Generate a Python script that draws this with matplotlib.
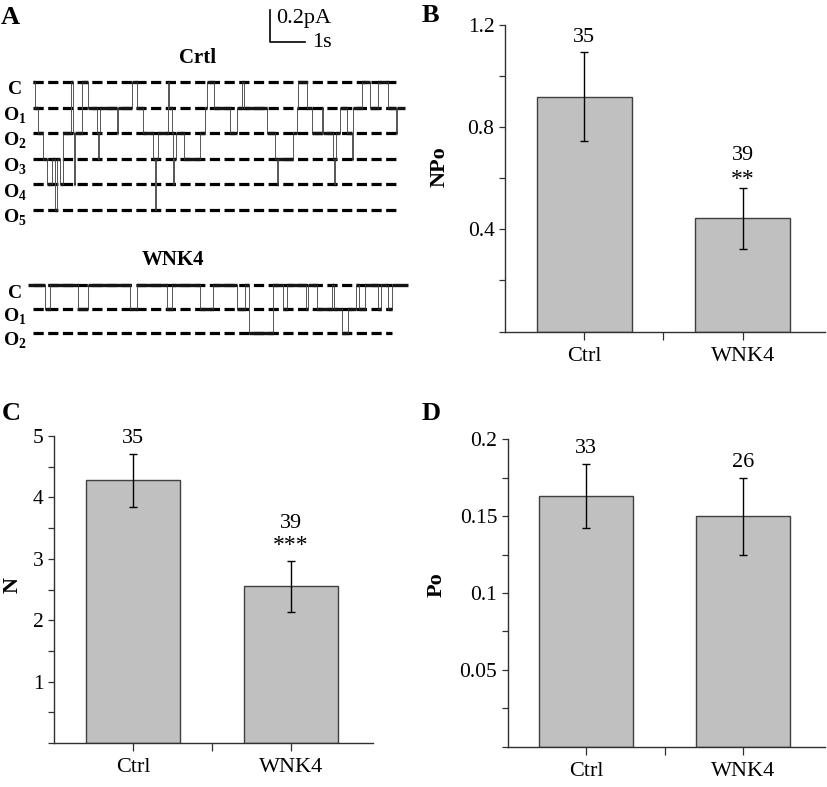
import numpy as np
import matplotlib
matplotlib.use('Agg')
import matplotlib.pyplot as plt
from matplotlib.ticker import MultipleLocator, FuncFormatter

plt.rcParams['font.family'] = ['Liberation Serif', 'DejaVu Serif']
plt.rcParams['mathtext.fontset'] = 'custom'
plt.rcParams['mathtext.rm'] = 'Liberation Serif'
plt.rcParams['mathtext.bf'] = 'Liberation Serif:bold'

# ---- data ----
groups = ['Ctrl', 'WNK4']

npo_mean = [0.92, 0.443]
npo_err = [0.175, 0.12]
npo_n = ['35', '39']
npo_sig = ['', '**']

n_mean = [4.28, 2.55]
n_err = [0.43, 0.41]
n_n = ['35', '39']
n_sig = ['', '***']

po_mean = [0.163, 0.150]
po_err = [0.021, 0.025]
po_n = ['33', '26']
po_sig = ['', '']

# single channel recordings: transition times (s) and number of open channels
crtl_t = [0.00, 0.06, 0.14, 0.29, 0.40, 0.54, 0.63, 0.69, 0.77, 0.86, 1.09, 1.13,
          1.16, 1.19, 1.40, 1.57, 1.83, 1.86, 1.89, 1.91, 2.40, 2.43, 2.83, 2.97,
          3.14, 3.43, 3.49, 3.51, 3.57, 3.86, 3.89, 3.97, 4.00, 4.03, 4.09, 4.31,
          4.77, 4.91, 4.97, 5.17, 5.63, 5.83, 5.97, 6.03, 6.69, 6.91, 6.97, 7.00,
          7.43, 7.54, 7.57, 7.83, 7.97, 8.26, 8.29, 8.57, 8.60, 8.63, 8.66, 8.77,
          8.97, 9.11, 9.14, 9.40, 9.63, 9.86, 10.14, 10.37, 10.40, 10.63]
crtl_n = [0, 1, 2, 3, 4, 3, 5, 3, 4, 2, 0, 2,
          4, 2, 0, 1, 2, 3, 2, 1, 2, 1, 0, 1,
          2, 3, 5, 3, 2, 0, 1, 2, 4, 3, 2, 3,
          2, 1, 0, 1, 2, 1, 0, 1, 2, 3, 4, 3,
          2, 1, 0, 1, 2, 1, 2, 3, 4, 3, 2, 1,
          2, 3, 1, 0, 1, 0, 1, 2, 1, 1]

wnk4_t = [-0.14, 0.34, 0.49, 1.29, 1.57, 2.77, 2.97, 3.83, 3.97, 4.77, 5.14, 5.83,
          6.06, 6.17, 6.86, 7.14, 7.26, 7.80, 7.86, 8.11, 8.54, 8.60, 8.83, 9.00,
          9.23, 9.31, 9.49, 9.86, 9.94, 10.14, 10.26, 10.71]
wnk4_n = [0, 1, 0, 1, 0, 1, 0, 1, 0, 1, 0, 1,
          0, 2, 0, 1, 0, 1, 0, 1, 0, 1, 2, 1,
          0, 1, 0, 1, 0, 1, 0, 0]

crtl_amp = 0.16   # pA
wnk4_amp = 0.15   # pA

W, H = 827, 787
fig = plt.figure(figsize=(W / 100, H / 100), dpi=100)


def fig_rect(x0, y0, x1, y1):
    # pixel box (top-left origin) -> figure fraction
    return [x0 / W, 1 - y1 / H, (x1 - x0) / W, (y1 - y0) / H]


# ---- panel A ----
axA = fig.add_axes(fig_rect(0, 0, 420, 380))
axA.set_xlim(-33 / 35, (420 - 33) / 35)
axA.set_ylim(-380 / 160, 0)
axA.axis('off')

crtl_base = -82 / 160
wnk4_base = -285 / 160


def draw_trace(t, n, base, amp, nlev, t_end, labels):
    for k in range(nlev):
        y = base - k * amp
        axA.plot([0, t_end], [y, y], color='black', lw=2.3,
                 dashes=(3.2, 1.4), solid_capstyle='butt', zorder=1)
        axA.text(-0.51, y - 0.05, labels[k], ha='center', va='center',
                 fontsize=14, fontweight='bold')
    # dwell levels (dark) and transitions (thin grey)
    for i in range(len(t) - 1):
        y = base - n[i] * amp
        axA.plot([t[i], t[i + 1]], [y, y], color='#151515', lw=2.4,
                 solid_capstyle='butt', zorder=3)
        if i > 0:
            yp = base - n[i - 1] * amp
            axA.plot([t[i], t[i]], [yp, y], color='#555555', lw=0.7, zorder=2)


crtl_labels = ['C'] + [r'$\mathbf{O}_{\mathbf{%d}}$' % k for k in range(1, 6)]
wnk4_labels = ['C'] + [r'$\mathbf{O}_{\mathbf{%d}}$' % k for k in range(1, 3)]
draw_trace(crtl_t, crtl_n, crtl_base, crtl_amp, 6, 10.37, crtl_labels)
draw_trace(wnk4_t, wnk4_n, wnk4_base, wnk4_amp, 3, 10.26, wnk4_labels)

axA.text(4.69, -0.3625, 'Crtl', ha='center', va='center', fontsize=15, fontweight='bold')
axA.text(4.0, -1.625, 'WNK4', ha='center', va='center', fontsize=15, fontweight='bold')

# scale bar
sx, sy = 6.77, -0.2625
axA.plot([sx, sx, sx + 1], [sy + 0.2, sy, sy], color='black', lw=1.2)
axA.text(sx + 0.17, sy + 0.15, '0.2pA', ha='left', va='center', fontsize=16)
axA.text(sx + 1.2, sy - 0.005, '1s', ha='left', va='center', fontsize=16)


# ---- bar panels ----
def bar_panel(rect, means, errs, counts, sigs, top, major, minor, ylabel,
              lab_xy, count_off, sig_off):
    ax = fig.add_axes(rect)
    x = np.arange(len(groups))
    ax.bar(x, means, width=0.6, color='#c0c0c0', edgecolor='#404040', lw=1, zorder=2)
    ax.errorbar(x, means, yerr=errs, fmt='none', ecolor='black', elinewidth=1,
                capsize=3, capthick=1, zorder=3)
    for i in range(len(groups)):
        ytop = means[i] + errs[i]
        if sigs[i]:
            ax.annotate(sigs[i], (x[i], ytop), xytext=(0, sig_off), textcoords='offset points',
                        ha='center', va='center', fontsize=17)
            ax.annotate(counts[i], (x[i], ytop), xytext=(0, count_off[1]),
                        textcoords='offset points', ha='center', va='center', fontsize=16)
        else:
            ax.annotate(counts[i], (x[i], ytop), xytext=(0, count_off[0]),
                        textcoords='offset points', ha='center', va='center', fontsize=16)
    ax.set_xlim(-0.5, 1.52)
    ax.set_ylim(0, top)
    ax.yaxis.set_major_locator(MultipleLocator(major))
    ax.yaxis.set_minor_locator(MultipleLocator(minor))
    ax.yaxis.set_major_formatter(FuncFormatter(lambda v, p: '' if abs(v) < 1e-9 else '%g' % round(v, 4)))
    ax.set_xticks([0, 0.5, 1])
    ax.set_xticklabels([groups[0], '', groups[1]])
    for s in ['top', 'right']:
        ax.spines[s].set_visible(False)
    for s in ['left', 'bottom']:
        ax.spines[s].set_color('#303030')
        ax.spines[s].set_linewidth(1)
    ax.tick_params(axis='y', which='both', direction='out', length=4.5, width=0.9,
                   labelsize=15.5, pad=3, color='#303030')
    ax.tick_params(axis='x', direction='out', length=6, width=0.9, labelsize=16,
                   pad=5, color='#303030')
    ax.set_ylabel(ylabel, fontsize=16, fontweight='bold')
    ax.yaxis.set_label_coords(lab_xy[0], lab_xy[1])
    return ax


bar_panel(fig_rect(505, 25, 825, 331.5), npo_mean, npo_err, npo_n, npo_sig,
          1.2, 0.4, 0.2, 'NPo', (-0.172, 0.537), (10, 23), 6)
bar_panel(fig_rect(54, 436, 373, 743), n_mean, n_err, n_n, n_sig,
          5, 1, 0.5, 'N', (-0.097, 0.515), (11, 27), 11)
bar_panel(fig_rect(507.7, 439.3, 825, 746.7), po_mean, po_err, po_n, po_sig,
          0.2, 0.05, 0.025, 'Po', (-0.191, 0.526), (11, 27), 7)

# panel letters
for letter, px, py in [('A', 10, 17), ('B', 430, 15), ('C', 11, 414), ('D', 431, 413)]:
    fig.text(px / W, 1 - py / H, letter, ha='center', va='center',
             fontsize=19, fontweight='bold')

fig.savefig('out.png', dpi=100)
